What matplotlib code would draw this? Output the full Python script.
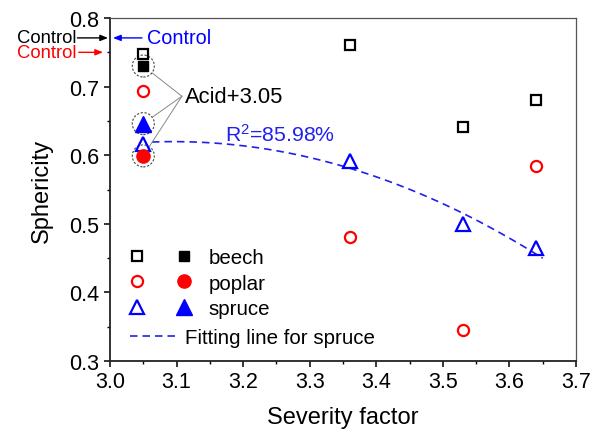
import numpy as np
import matplotlib
matplotlib.use('Agg')
import matplotlib.pyplot as plt
from matplotlib.patches import Ellipse
from matplotlib.legend_handler import HandlerTuple

plt.rcParams['font.family'] = ['Liberation Sans', 'DejaVu Sans']
plt.rcParams['mathtext.default'] = 'regular'

# severity factor and sphericity values
sev = [3.05, 3.36, 3.53, 3.64]
beech = [0.748, 0.760, 0.641, 0.680]
poplar = [0.693, 0.481, 0.345, 0.584]
spruce = [0.617, 0.591, 0.499, 0.464]

# acid pretreated at 3.05 (filled)
acid_x = 3.05
beech_acid = 0.730
poplar_acid = 0.599
spruce_acid = 0.646

# control values (shown by arrows on the axis)
control_beech = 0.771
control_spruce = 0.771
control_poplar = 0.750

fit = np.polyfit(sev, spruce, 2)
xf = np.linspace(3.063, 3.65, 100)
yf = np.polyval(fit, xf)

fig = plt.figure(figsize=(5.96, 4.39), dpi=100)
ax = fig.add_axes([0.1846, 0.1754, 0.7818, 0.7813])

fitline, = ax.plot(xf, yf, color='#2020ee', lw=1.2, dashes=(4.5, 3))

ob, = ax.plot(sev, beech, 's', ms=7.2, mfc='none', mec='black', mew=1.6, ls='none')
op, = ax.plot(sev, poplar, 'o', ms=8, mfc='none', mec='red', mew=1.6, ls='none')
os_, = ax.plot(sev, spruce, '^', ms=9.5, mfc='none', mec='blue', mew=1.6, ls='none')
fb, = ax.plot([acid_x], [beech_acid], 's', ms=7.5, color='black', ls='none')
fp, = ax.plot([acid_x], [poplar_acid], 'o', ms=9.5, color='red', ls='none')
fs, = ax.plot([acid_x], [spruce_acid], '^', ms=11, color='blue', ls='none')

# dashed circles around the acid points
for yv in [beech_acid, spruce_acid, poplar_acid]:
    ax.add_patch(Ellipse((acid_x, yv), 22 / 665.7, 22 / 686, fill=False,
                         ls=(0, (2, 1.5)), lw=0.8, ec='#444444'))
    ax.annotate('', xy=(acid_x, yv), xytext=(3.108, 0.686),
                arrowprops=dict(arrowstyle='-', color='#888888', lw=0.7,
                                shrinkA=0, shrinkB=7.9))
ax.text(3.113, 0.686, 'Acid+3.05', fontsize=15.8, va='center', ha='left')

ax.text(3.173, 0.621, 'R$^2$=85.98%', fontsize=15.3, color='#2020ee', va='baseline')

# control arrows
ap = dict(arrowstyle='-|>,head_length=0.45,head_width=0.18', lw=1.0, shrinkA=0, shrinkB=0)
ax.annotate('', xy=(2.997, control_beech), xytext=(2.951, control_beech),
            arrowprops=dict(ap, color='black'), annotation_clip=False)
ax.text(2.949, control_beech, 'Control', fontsize=13.3, ha='right', va='center',
        color='black')
ax.annotate('', xy=(2.9895, control_poplar), xytext=(2.953, control_poplar),
            arrowprops=dict(ap, color='red'), annotation_clip=False)
ax.text(2.949, control_poplar, 'Control', fontsize=13.3, ha='right', va='center',
        color='red')
ax.annotate('', xy=(3.0045, control_spruce), xytext=(3.048, control_spruce),
            arrowprops=dict(ap, color='blue'), annotation_clip=False)
ax.text(3.0556, control_spruce, 'Control', fontsize=14.3, ha='left', va='center',
        color='blue')

ax.set_xlim(3.0, 3.7)
ax.set_ylim(0.3, 0.8)
ax.set_xticks(np.arange(3.0, 3.71, 0.1))
ax.set_yticks(np.arange(0.3, 0.81, 0.1))
ax.set_xticks(np.arange(3.05, 3.7, 0.1), minor=True)
ax.set_yticks(np.arange(0.35, 0.8, 0.1), minor=True)
ax.xaxis.set_major_formatter(plt.FormatStrFormatter('%.1f'))
ax.yaxis.set_major_formatter(plt.FormatStrFormatter('%.1f'))
ax.tick_params(which='major', direction='out', length=4.5, width=1.1, labelsize=15.5,
               pad=3)
ax.tick_params(which='minor', direction='out', length=2.5, width=1.0)
ax.tick_params(top=False, right=False)

for s in ['left', 'bottom']:
    ax.spines[s].set_linewidth(1.3)
    ax.spines[s].set_color('#222222')
for s in ['top', 'right']:
    ax.spines[s].set_linewidth(0.9)
    ax.spines[s].set_color('#555555')

ax.set_xlabel('Severity factor', fontsize=17, labelpad=10)
ax.set_ylabel('Sphericity', fontsize=17, labelpad=12)

leg1 = ax.legend([(ob, fb), (op, fp), (os_, fs)], ['beech', 'poplar', 'spruce'],
                 handler_map={tuple: HandlerTuple(ndivide=None, pad=1.69)},
                 loc='upper left', bbox_to_anchor=(0.045, 0.329), frameon=False,
                 fontsize=14.8, handlelength=2.88, handletextpad=0.9,
                 labelspacing=0.31, borderpad=0, borderaxespad=0, numpoints=1)
ax.add_artist(leg1)
ax.legend([fitline], ['Fitting line for spruce'], loc='upper left',
          bbox_to_anchor=(0.043, 0.096), frameon=False, fontsize=14.8,
          handlelength=2.34, handletextpad=0.35, borderpad=0, borderaxespad=0)

fig.savefig('out.png', dpi=100)
